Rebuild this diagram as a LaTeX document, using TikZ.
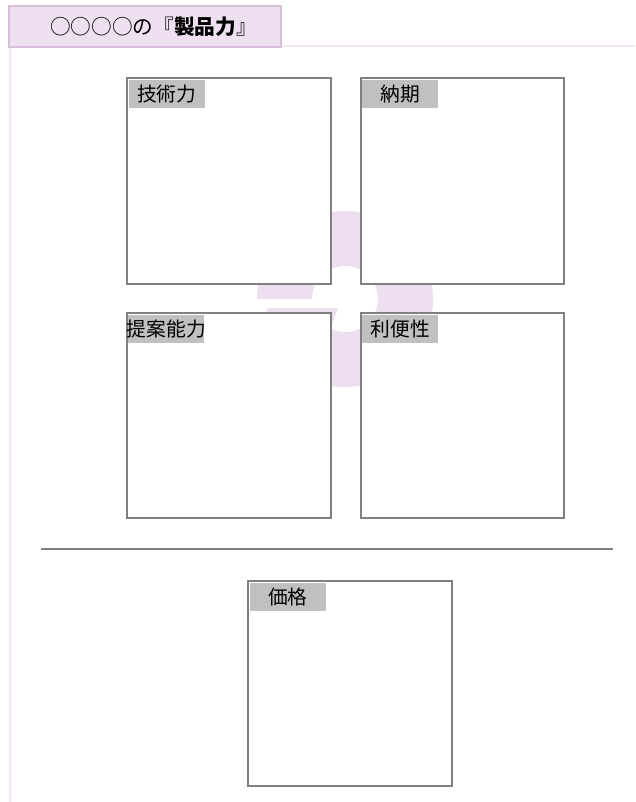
\documentclass[tikz,border=0pt]{standalone}
\usepackage{fontspec}
\setmainfont{Noto Sans CJK JP}
\definecolor{tabfill}{HTML}{EFE0F1}
\definecolor{tabdraw}{HTML}{D9BEDC}
\definecolor{thinpink}{HTML}{F3E6F5}
\definecolor{ringc}{HTML}{EEDFF0}
\definecolor{boxgray}{HTML}{808080}
\definecolor{labgray}{HTML}{C0C0C0}
\begin{document}
\begin{tikzpicture}[x=0.75pt,y=-0.75pt,
  boxstyle/.style={draw=boxgray,fill=white,line width=1.4pt},
  labstyle/.style={fill=labgray,inner sep=0pt,minimum width=57pt,minimum height=21pt,anchor=north west,font=\fontsize{14.8pt}{16pt}\selectfont},
  sepline/.style={draw=boxgray,line width=1.5pt}]
\useasboundingbox (0,0) rectangle (635,802);
% background logo ring
\fill[ringc,even odd rule] (345,299) circle[radius=88] (345,299) circle[radius=33];
\fill[white] (250,299) -- (341,299) -- (338,308) -- (268,308) -- (262,318) -- (250,318) -- cycle;
\fill[ringc] (268,308) -- (338,308) -- (330,330) -- (262,330) -- cycle;
% header
\draw[thinpink,line width=1.2pt] (280,46) -- (635,46);
\draw[thinpink,line width=1.2pt] (10,46) -- (10,802);
\node[draw=tabdraw,fill=tabfill,line width=1.2pt,minimum width=204pt,minimum height=30.75pt,anchor=north west,inner sep=0pt] (tab) at (8,5) {};
\node[anchor=west,inner sep=0pt,font=\fontsize{15.5pt}{17pt}\selectfont] (title) at (50,27) {○○○○の『{\bfseries 製品力}』};
% boxes
\draw[boxstyle] (127,78) rectangle (331,284);
\draw[boxstyle] (361,78) rectangle (564,284);
\draw[boxstyle] (127,313) rectangle (331,518);
\draw[boxstyle] (361,313) rectangle (564,518);
\draw[boxstyle] (248,581) rectangle (452,786);
\node[labstyle] (l1) at (128.5,79.5) {\makebox[57pt][c]{技術力}};
\node[labstyle] (l2) at (362,79.5) {\makebox[57pt][c]{納期}};
\node[labstyle] (l3) at (128,314.5) {\makebox[57pt][c]{提案能力}};
\node[labstyle] (l4) at (362,314.5) {\makebox[57pt][c]{利便性}};
\node[labstyle] (l5) at (249.5,582.5) {\makebox[57pt][c]{価格}};
% separator
\coordinate (s1) at (41,549);
\coordinate (s2) at (613,549);
\draw[sepline] (s1) -- (s2);
\end{tikzpicture}
\end{document}
